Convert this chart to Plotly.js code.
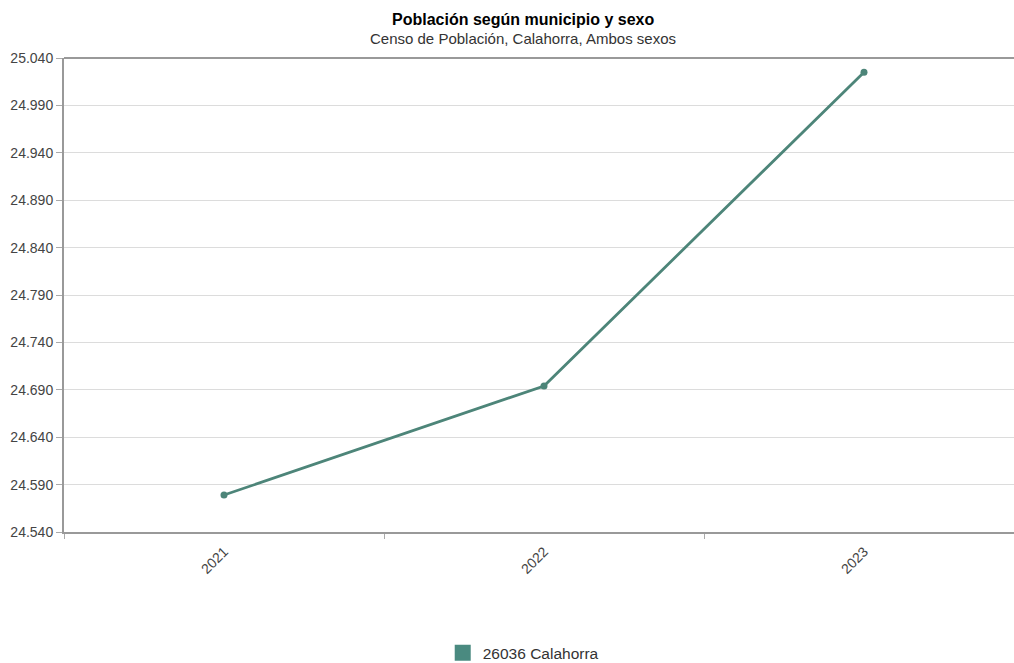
<!DOCTYPE html>
<html>
<head>
<meta charset="utf-8">
<script src="https://cdn.plot.ly/plotly-3.0.1.min.js"></script>
<style>html,body{margin:0;padding:0;background:#fff;}#chart{width:1014px;height:663px;}</style>
</head>
<body>
<div id="chart"></div>
<script>
const years = ["2021", "2022", "2023"];
const poblacion = [24579, 24694, 25025];
const seriesName = "26036 Calahorra";
const yTicks = [24540, 24590, 24640, 24690, 24740, 24790, 24840, 24890, 24940, 24990, 25040];

const lineColor = "#4d8579";
const traces = [
  {
    x: years, y: poblacion, type: "scatter", mode: "lines+markers",
    line: {color: lineColor, width: 2.8},
    marker: {color: lineColor, size: 7},
    showlegend: false, name: seriesName, hoverinfo: "x+y"
  },
  {
    x: [null], y: [null], type: "scatter", mode: "markers",
    marker: {color: "#4a8a80", size: 17, symbol: "square"},
    name: seriesName, showlegend: true
  }
];

const layout = {
  width: 1014, height: 663,
  margin: {l: 64, r: 0, t: 58, b: 131, autoexpand: false},
  paper_bgcolor: "#fff", plot_bgcolor: "#fff",
  separators: ",.",
  font: {family: "Liberation Sans, Arial, sans-serif", color: "#333", size: 12},
  title: {text: ""},
  annotations: [
    {text: "<b>Población según municipio y sexo</b>", xref: "paper", yref: "paper", x: 0.4832, y: 1, yshift: 39, showarrow: false, font: {size: 16, color: "#000"}, xanchor: "center", yanchor: "middle"},
    {text: "Censo de Población, Calahorra, Ambos sexos", xref: "paper", yref: "paper", x: 0.4832, y: 1, yshift: 20, showarrow: false, font: {size: 15, color: "#333"}, xanchor: "center", yanchor: "middle"}
  ],
  xaxis: {
    type: "category", range: [-0.5, 2.46875],
    showgrid: false, zeroline: false,
    showline: true, linecolor: "#999", linewidth: 2,
    ticks: "outside", tickson: "boundaries", ticklen: 5, tickcolor: "#aaa",
    tickangle: -45, ticklabelstandoff: 4, tickfont: {size: 14, color: "#444"}
  },
  yaxis: {
    range: [24540, 25040], tickvals: yTicks, tickformat: ",d",
    showgrid: true, gridcolor: "#dcdcdc", gridwidth: 1,
    zeroline: false, showline: true, linecolor: "#999", linewidth: 2,
    mirror: false, ticks: "outside", ticklen: 6, tickcolor: "#aaa",
    tickfont: {size: 14, color: "#444"}
  },
  shapes: [
    {type: "line", xref: "paper", yref: "paper", x0: 0, x1: 1, y0: 1, y1: 1, line: {color: "#999", width: 2}}
  ],
  legend: {orientation: "h", x: 0.516, xref: "container", xanchor: "center", y: 0.015, yref: "container", yanchor: "middle", font: {size: 15.5, color: "#333"}}
};

Plotly.newPlot("chart", traces, layout, {displayModeBar: false, staticPlot: true});
</script>
</body>
</html>
